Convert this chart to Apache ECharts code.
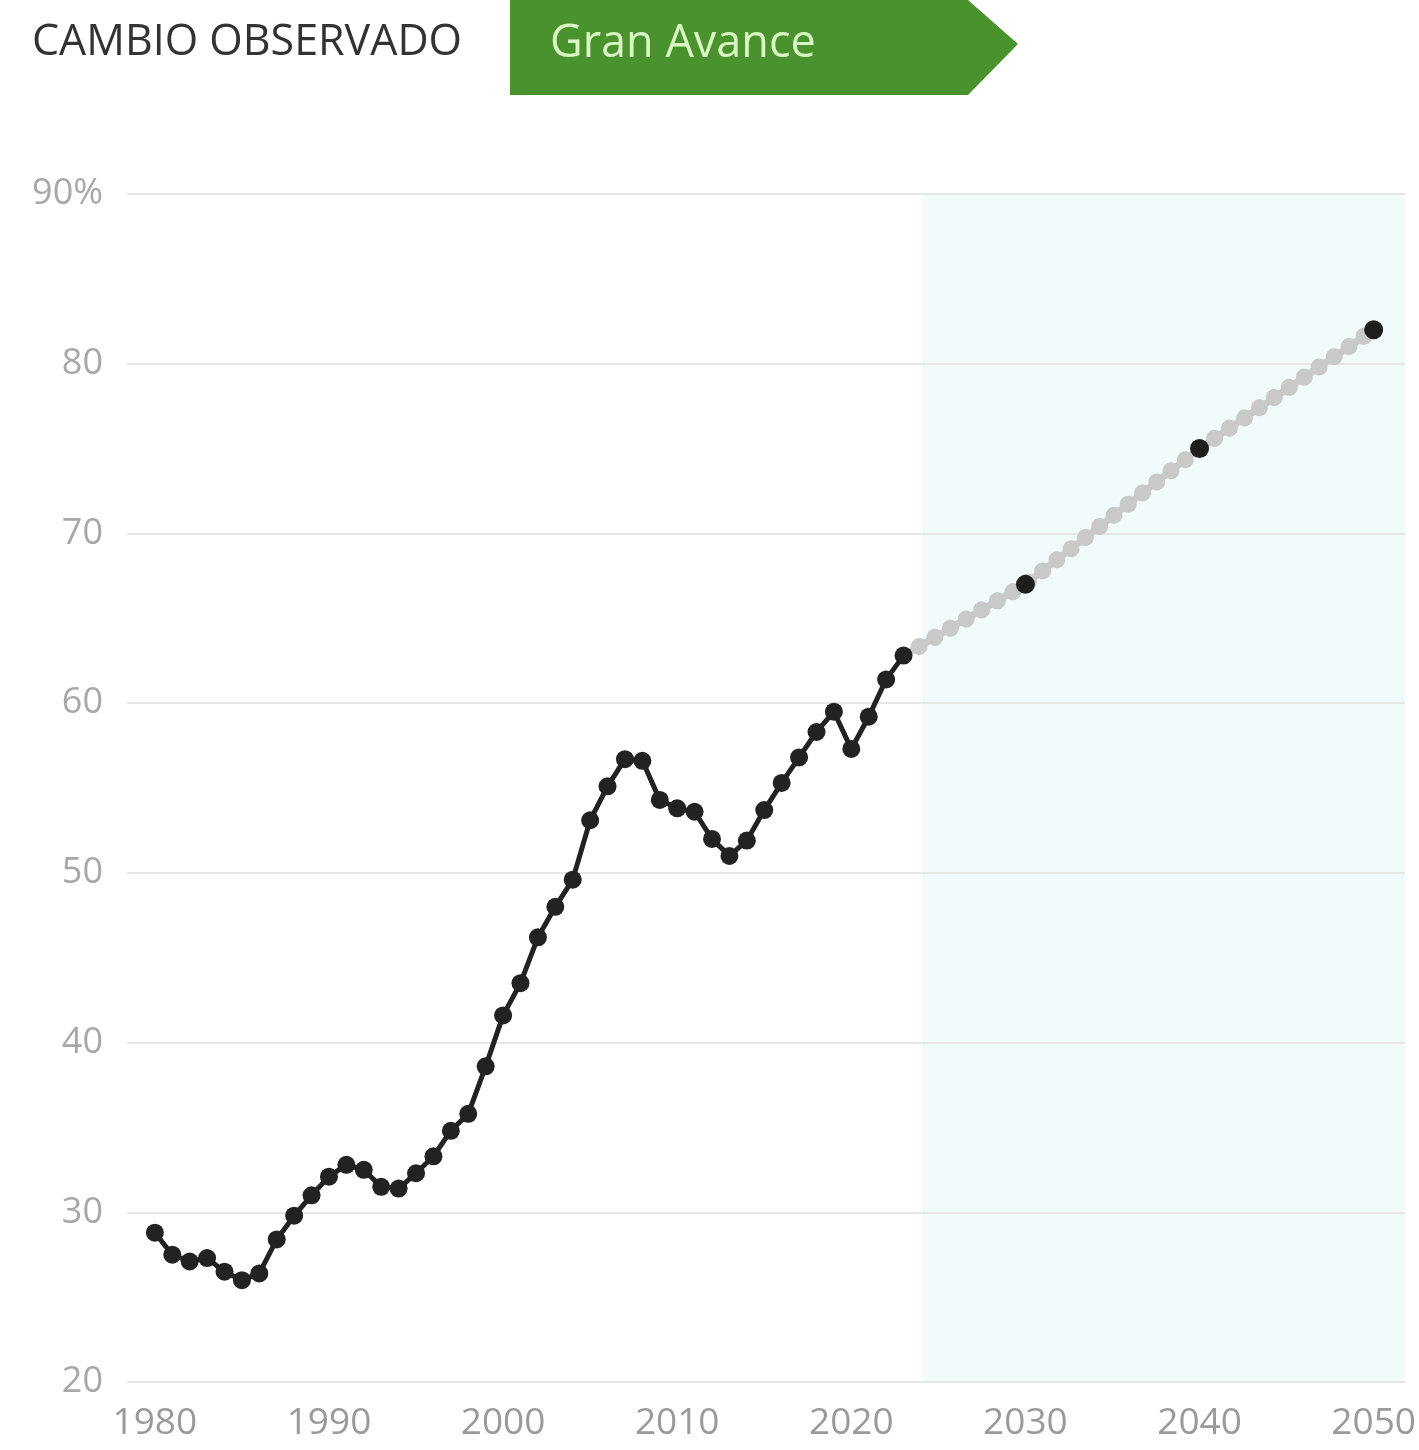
<!DOCTYPE html>
<html>
<head>
<meta charset="utf-8">
<script src="https://cdn.jsdelivr.net/npm/echarts@6/dist/echarts.min.js"></script>
<style>
html,body{margin:0;padding:0;background:#fff;}
#chart{width:1419px;height:1450px;}
</style>
</head>
<body>
<div id="chart"></div>
<script>
const years = [1980,1981,1982,1983,1984,1985,1986,1987,1988,1989,1990,1991,1992,1993,1994,1995,1996,1997,1998,1999,2000,2001,2002,2003,2004,2005,2006,2007,2008,2009,2010,2011,2012,2013,2014,2015,2016,2017,2018,2019,2020,2021,2022,2023];
const observed = [28.8,27.5,27.1,27.3,26.5,26.0,26.4,28.4,29.8,31.0,32.1,32.8,32.5,31.5,31.4,32.3,33.3,34.8,35.8,38.6,41.6,43.5,46.2,48.0,49.6,53.1,55.1,56.7,56.6,54.3,53.8,53.6,52.0,51.0,51.9,53.7,55.3,56.8,58.3,59.5,57.3,59.2,61.4,62.8];
const projYears = [2023,2030,2040,2050];
const projValues = [62.8,67.0,75.0,82.0];
const targetYears = [2030,2040,2050];
const targetValues = [67.0,75.0,82.0];
const xTicks = [1980,1990,2000,2010,2020,2030,2040,2050];
const shadeStart = 2024.1;
const titleText = 'CAMBIO OBSERVADO';
const badgeText = 'Gran Avance';

const chart = echarts.init(document.getElementById('chart'));
const font = '"Open Sans", "Noto Sans", sans-serif';
chart.setOption({
  animation: false,
  backgroundColor: '#ffffff',
  grid: {left: 127, right: 14, top: 194, bottom: 68},
  graphic: [
    {type: 'polygon', shape: {points: [[510,0],[968,0],[1018,44],[968,95],[510,95]]}, style: {fill: '#4a922e'}},
    {type: 'text', style: {x: 32, y: 43, text: titleText, font: '400 43px ' + font, fill: '#333333', verticalAlign: 'middle'}},
    {type: 'text', style: {x: 550, y: 44, text: badgeText, font: '400 45px ' + font, fill: '#d9f7c4', verticalAlign: 'middle'}}
  ],
  xAxis: {
    type: 'value', min: 1978.4, max: 2051.8,
    axisLine: {show: false}, axisTick: {show: false}, splitLine: {show: false},
    axisLabel: {customValues: xTicks, color: '#9a9a9a', fontSize: 37, fontFamily: font, margin: 23,
      formatter: v => String(v)}
  },
  yAxis: {
    type: 'value', min: 20, max: 90, interval: 10, z: 1,
    axisLine: {show: false}, axisTick: {show: false},
    splitLine: {lineStyle: {color: '#e6e6e6', width: 2}},
    axisLabel: {color: '#a8a8a8', fontSize: 36, fontFamily: font, margin: 24,
      formatter: v => v === 90 ? '90%' : String(v)}
  },
  series: [
    {
      type: 'line', data: [], silent: true, z: -1,
      markArea: {silent: true, z: -1, itemStyle: {color: '#f2fbfc', opacity: 1}, data: [[{xAxis: shadeStart}, {xAxis: 2051.8}]]}
    },
    {
      type: 'line', data: projYears.map((y,i) => [y, projValues[i]]), symbol: 'none', z: 2,
      lineStyle: {color: '#c9c9c9', width: 7}
    },
    {
      type: 'line', data: projYears.map((y,i) => [y, projValues[i]]), symbol: 'none', z: 2,
      lineStyle: {color: '#c9c9c9', width: 17, type: [0.1, 18], cap: 'round'}
    },
    {
      type: 'line', data: years.map((y,i) => [y, observed[i]]), z: 3,
      symbol: 'circle', symbolSize: 18,
      itemStyle: {color: '#222222'},
      lineStyle: {color: '#222222', width: 5}
    },
    {
      type: 'scatter', data: targetYears.map((y,i) => [y, targetValues[i]]), z: 4,
      symbol: 'circle', symbolSize: 19, itemStyle: {color: '#1e1e1e', opacity: 1}
    }
  ]
});
</script>
</body>
</html>
